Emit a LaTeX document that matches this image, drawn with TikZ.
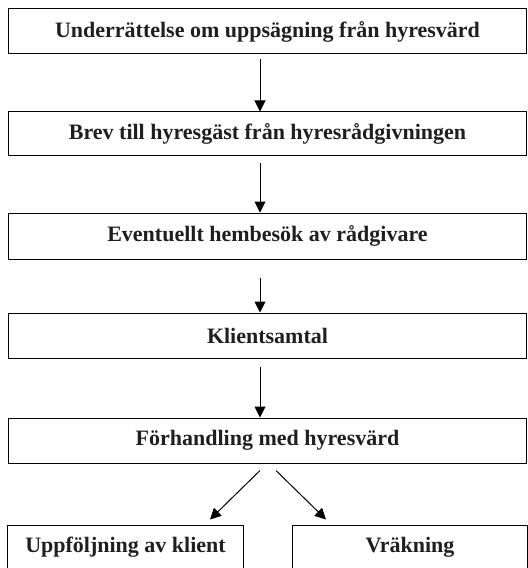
\documentclass[tikz,border=0pt]{standalone}
\usepackage{fontspec}
\setmainfont{Liberation Serif}
\usetikzlibrary{arrows.meta}
\begin{document}
\begin{tikzpicture}[x=1bp,y=-1bp,
  box/.style={draw=black,line width=1bp,minimum height=45bp,inner sep=0pt,
    font=\fontsize{22bp}{24bp}\selectfont\bfseries,text=black!88},
  wide/.style={box,minimum width=518bp},
  half/.style={box,minimum width=235bp},
  conn/.style={draw=black,line width=1bp,-{Triangle[length=11bp,width=11bp]}}]
\useasboundingbox (0,0) rectangle (528,568);
\clip (0,0) rectangle (528,568);
\node[wide] (a) at (267.5,31.5) {Underrättelse om uppsägning från hyresvärd};
\node[wide,minimum height=43bp] (b) at (267.5,133.5) {Brev till hyresgäst från hyresrådgivningen};
\node[wide,minimum height=46bp] (c) at (267.5,236) {Eventuellt hembesök av rådgivare};
\node[wide] (d) at (267.5,335.5) {Klientsamtal};
\node[wide] (e) at (267.5,440.5) {Förhandling med hyresvärd};
\node[half] (f) at (125.5,547.5) {Uppföljning av klient};
\node[half] (g) at (410,547.5) {Vräkning};
\draw[conn] ([xshift=-7.5bp,yshift=-5bp]a.south) -- ([xshift=-7.5bp]b.north);
\draw[conn] ([xshift=-7.5bp,yshift=-7bp]b.south) -- ([xshift=-7.5bp]c.north);
\draw[conn] ([xshift=-7.5bp,yshift=-18bp]c.south) -- ([xshift=-7.5bp]d.north);
\draw[conn] ([xshift=-7.5bp,yshift=-8bp]d.south) -- ([xshift=-7.5bp]e.north);
\draw[conn] ([xshift=-7.5bp,yshift=-7bp]e.south) -- ([xshift=84.5bp,yshift=5bp]f.north);
\draw[conn] ([xshift=8.5bp,yshift=-7bp]e.south) -- ([xshift=-84bp,yshift=5bp]g.north);
\end{tikzpicture}
\end{document}
